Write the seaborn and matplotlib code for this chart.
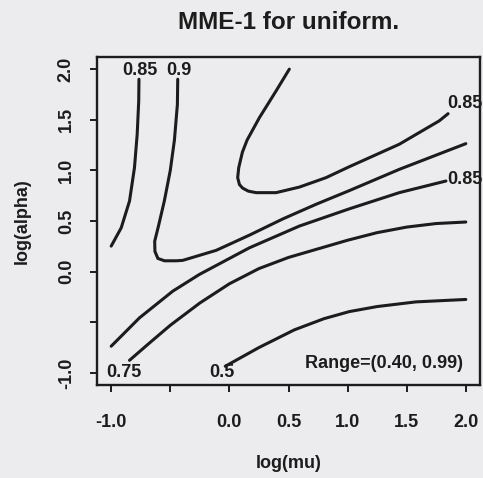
import matplotlib
matplotlib.use("Agg")
import matplotlib.pyplot as plt
import seaborn as sns
import pandas as pd

title = "MME-1 for uniform."
x_label = "log(mu)"
y_label = "log(alpha)"
tick_values = [-1.0, -0.5, 0.0, 0.5, 1.0, 1.5, 2.0]
tick_labels = ["-1.0", "", "0.0", "0.5", "1.0", "1.5", "2.0"]
range_text = "Range=(0.40, 0.99)"

# contour lines: (log mu, log alpha)
c085_left_x = [-0.765, -0.767, -0.780, -0.803, -0.845, -0.915, -1.0]
c085_left_y = [1.90, 1.686, 1.357, 1.027, 0.697, 0.433, 0.252]

c090_x = [-0.437, -0.440, -0.465, -0.500, -0.550, -0.600, -0.632, -0.630,
          -0.605, -0.549, -0.450, -0.395, -0.112, 0.169, 0.451, 0.733,
          1.014, 1.437, 2.0]
c090_y = [1.90, 1.65, 1.30, 1.00, 0.70, 0.45, 0.30, 0.20,
          0.13, 0.107, 0.107, 0.111, 0.210, 0.360, 0.520, 0.665,
          0.800, 1.010, 1.264]

c085_top_x = [0.507, 0.395, 0.254, 0.150, 0.110, 0.079, 0.070, 0.085,
              0.112, 0.160, 0.226, 0.395, 0.592, 0.817, 1.014, 1.437,
              1.775, 1.850]
c085_top_y = [2.0, 1.785, 1.521, 1.300, 1.180, 1.027, 0.928, 0.860,
              0.825, 0.795, 0.780, 0.780, 0.835, 0.928, 1.036, 1.258,
              1.489, 1.560]

c085_mid_x = [-1.0, -0.761, -0.479, -0.254, 0.169, 0.592, 1.014, 1.437, 1.832]
c085_mid_y = [-0.737, -0.457, -0.193, -0.028, 0.235, 0.450, 0.620, 0.780, 0.895]

c075_x = [-0.845, -0.676, -0.500, -0.250, 0.0, 0.250, 0.500, 0.750,
          1.000, 1.250, 1.500, 1.750, 2.0]
c075_y = [-0.876, -0.705, -0.530, -0.310, -0.120, 0.030, 0.140, 0.225,
          0.310, 0.385, 0.440, 0.475, 0.490]

c050_x = [-0.035, 0.250, 0.550, 0.800, 1.014, 1.250, 1.578, 2.0]
c050_y = [-0.935, -0.750, -0.575, -0.465, -0.395, -0.345, -0.299, -0.275]

curves = {
    "0.85a": (c085_left_x, c085_left_y),
    "0.9": (c090_x, c090_y),
    "0.85b": (c085_top_x, c085_top_y),
    "0.85c": (c085_mid_x, c085_mid_y),
    "0.75": (c075_x, c075_y),
    "0.5": (c050_x, c050_y),
}
frames = []
for name, (xs, ys) in curves.items():
    frames.append(pd.DataFrame({"x": xs, "y": ys, "curve": name}))
df = pd.concat(frames, ignore_index=True)

bg = "#ececee"
ink = "#1c1c1c"
sns.set_theme(style="ticks")
plt.rcParams["font.family"] = ["Liberation Sans", "DejaVu Sans"]
plt.rcParams["text.color"] = ink

fig = plt.figure(figsize=(4.83, 4.78), dpi=100, facecolor=bg)
ax = fig.add_axes([97 / 483, 1 - 385 / 478, 383 / 483, 328 / 478])
ax.set_facecolor(bg)

sns.lineplot(data=df, x="x", y="y", units="curve", estimator=None,
             sort=False, color=ink, linewidth=2.2, ax=ax, legend=False)
for ln in ax.get_lines():
    ln.set_solid_joinstyle("round")
    ln.set_solid_capstyle("round")

ax.set_xlim(-1.12, 2.12)
ax.set_ylim(-1.12, 2.12)
ax.set_xticks(tick_values)
ax.set_xticklabels(tick_labels)
ax.set_yticks(tick_values)
ax.set_yticklabels(tick_labels)
for s in ax.spines.values():
    s.set_color(ink)
    s.set_linewidth(1.7)
ax.tick_params(axis="both", direction="out", length=5, width=1.4,
               color=ink, labelcolor=ink, labelsize=13)
ax.tick_params(axis="x", pad=16)
ax.tick_params(axis="y", pad=11, labelrotation=90)
for lab in ax.get_xticklabels() + ax.get_yticklabels():
    lab.set_fontweight("bold")
for lab in ax.get_yticklabels():
    lab.set_va("center")

ax.set_xlabel(x_label, fontsize=13, fontweight="bold", color=ink, va="center")
ax.set_ylabel(y_label, fontsize=13, fontweight="bold", color=ink, va="center")
ax.xaxis.set_label_coords(0.5, (385 - 463) / 328)
ax.yaxis.set_label_coords((22 - 97) / 383, 0.5)

ax.text(0.5, (385 - 23) / 328, title, transform=ax.transAxes,
        ha="center", va="center", fontsize=17.5, fontweight="bold", color=ink)

lab_kw = dict(fontsize=13, fontweight="bold", color=ink, va="center")
ax.text(-0.760, 1.983, "0.85", ha="center", **lab_kw)
ax.text(-0.427, 1.983, "0.9", ha="center", **lab_kw)
ax.text(-0.893, -1.0, "0.75", ha="center", **lab_kw)
ax.text(-0.063, -1.0, "0.5", ha="center", **lab_kw)
ax.text(1.844, 1.656, "0.85", ha="left", clip_on=False, **lab_kw)
ax.text(1.846, 0.912, "0.85", ha="left", clip_on=False, **lab_kw)
ax.text(1.98, -0.905, range_text, ha="right", **lab_kw)

fig.savefig("out.png", dpi=100, facecolor=bg)
